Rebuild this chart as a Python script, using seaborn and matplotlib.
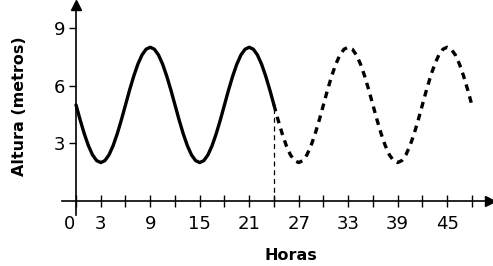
import pandas as pd
import matplotlib.pyplot as plt
import matplotlib.transforms as mtransforms
import seaborn as sns

# tide height, every half hour
hours = [i / 2 for i in range(0, 97)]
heights = [
    5.0, 4.22, 3.5, 2.88, 2.4, 2.1, 2.0, 2.1, 2.4, 2.88, 3.5, 4.22,
    5.0, 5.78, 6.5, 7.12, 7.6, 7.9, 8.0, 7.9, 7.6, 7.12, 6.5, 5.78,
    5.0, 4.22, 3.5, 2.88, 2.4, 2.1, 2.0, 2.1, 2.4, 2.88, 3.5, 4.22,
    5.0, 5.78, 6.5, 7.12, 7.6, 7.9, 8.0, 7.9, 7.6, 7.12, 6.5, 5.78,
    5.0, 4.22, 3.5, 2.88, 2.4, 2.1, 2.0, 2.1, 2.4, 2.88, 3.5, 4.22,
    5.0, 5.78, 6.5, 7.12, 7.6, 7.9, 8.0, 7.9, 7.6, 7.12, 6.5, 5.78,
    5.0, 4.22, 3.5, 2.88, 2.4, 2.1, 2.0, 2.1, 2.4, 2.88, 3.5, 4.22,
    5.0, 5.78, 6.5, 7.12, 7.6, 7.9, 8.0, 7.9, 7.6, 7.12, 6.5, 5.78,
    5.0,
]
split_hour = 24
x_ticks = list(range(0, 49, 3))
x_labels = ["0", "3", "", "9", "", "15", "", "21", "", "27", "", "33", "",
            "39", "", "45", ""]
y_ticks = [3, 6, 9]

df = pd.DataFrame({"Horas": hours, "Altura": heights})
known = df[df["Horas"] <= split_hour]
forecast = df[df["Horas"] >= split_hour]

sns.set_style("white")
plt.rcParams['font.family'] = ['DejaVu Sans']
plt.rcParams['text.color'] = 'black'

fig = plt.figure(figsize=(4.93, 2.66), dpi=100)
ax = fig.add_axes([62 / 493, 51 / 266, 428 / 493, 210 / 266])

sns.lineplot(data=known, x="Horas", y="Altura", ax=ax, color="black", lw=2.4)
sns.lineplot(data=forecast, x="Horas", y="Altura", ax=ax, color="black",
             lw=2.4, linestyle=(0, (2.0, 1.7)))
h_split = known["Altura"].iloc[-1]
ax.plot([split_hour, split_hour], [0, h_split], color="black", lw=0.9,
        linestyle=(0, (4, 3)))

ax.set_xlim(-1.7, 50.2)
ax.set_ylim(-0.73, 10.2)

for s in ["top", "right"]:
    ax.spines[s].set_visible(False)
ax.spines["left"].set_position(("data", 0))
ax.spines["bottom"].set_position(("data", 0))
for s in ["left", "bottom"]:
    ax.spines[s].set_linewidth(1.2)
    ax.spines[s].set_color("black")

ax.plot(1, 0, ">", color="black", ms=7, transform=ax.get_yaxis_transform(),
        clip_on=False)
ax.plot(0, 1, "^", color="black", ms=7, transform=ax.get_xaxis_transform(),
        clip_on=False)

ax.set_xticks(x_ticks)
ax.set_xticklabels(x_labels)
ax.set_yticks(y_ticks)
ax.set_yticklabels([str(v) for v in y_ticks])
ax.tick_params(axis="x", bottom=True, direction="inout", length=8, width=1,
               pad=6, labelsize=13, colors="black")
ax.tick_params(axis="y", left=True, direction="out", length=5, width=1,
               pad=3, labelsize=13, colors="black")
# the 0 sits left of the vertical axis
lbl0 = ax.get_xticklabels()[0]
lbl0.set_transform(lbl0.get_transform() +
                   mtransforms.ScaledTranslation(-7 / 100, 0, fig.dpi_scale_trans))

ax.set_xlabel("")
ax.set_ylabel("")
fig.text(0.589, 0.012, "Horas", ha="center", va="bottom", fontsize=11.5,
         fontweight="bold", color="black")
fig.text(0.04, 0.60, "Altura (metros)", ha="center", va="center",
         rotation=90, fontsize=11.5, fontweight="bold", color="black")

fig.savefig("out.png", dpi=100)
